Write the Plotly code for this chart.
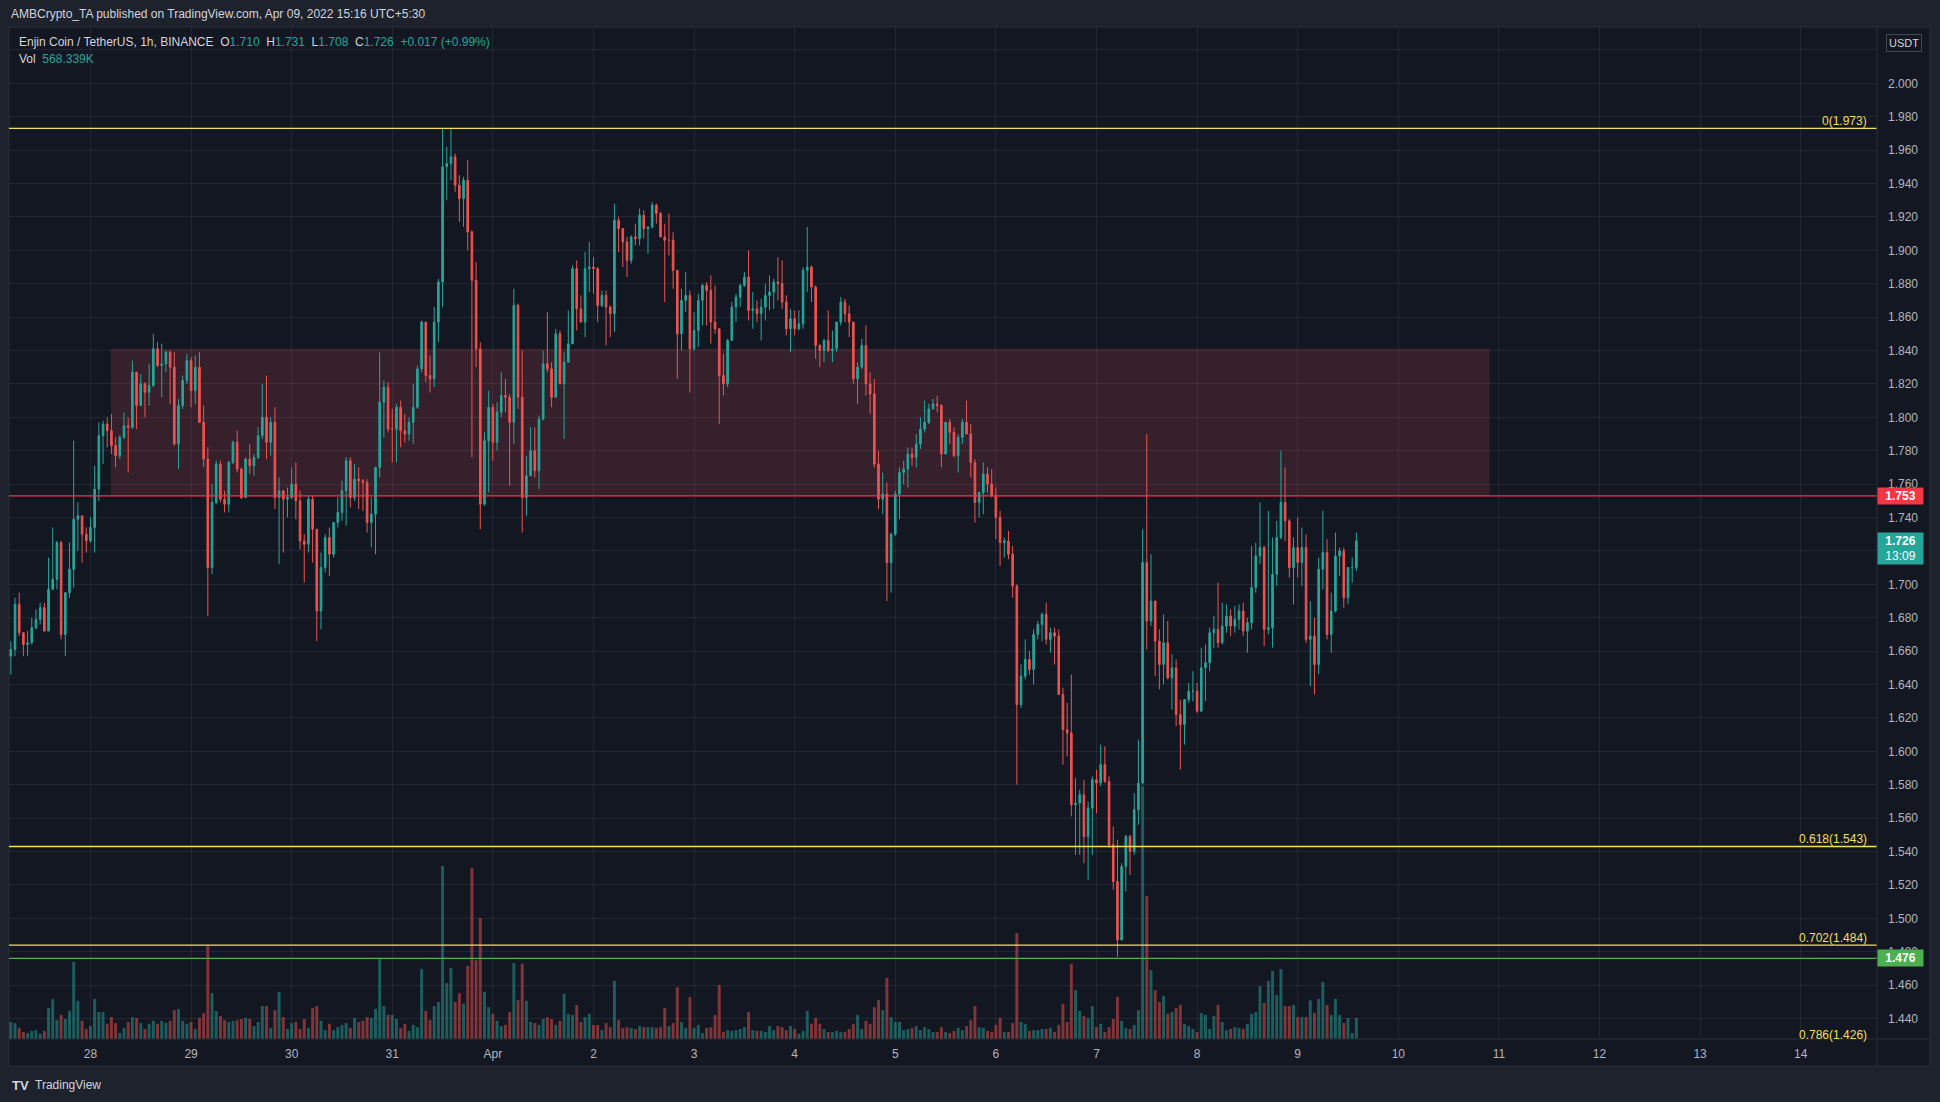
import plotly.graph_objects as go
import pandas as pd

# ---------------- data (ENJ/USDT, 1h, BINANCE) ----------------
first_candle = "2022-03-27 05:00"
first_open = 1.657

closes = [
    1.661, 1.688, 1.671, 1.664, 1.665, 1.674, 1.679, 1.686, 1.672, 1.697, 1.703, 1.725, 1.670, 1.695, 1.709, 1.739, 1.741, 1.730, 1.726,
    1.734, 1.757, 1.789, 1.796, 1.792, 1.783, 1.777, 1.788, 1.795, 1.794, 1.827, 1.807, 1.820, 1.815, 1.819, 1.841, 1.831, 1.832, 1.839, 1.830, 1.784, 1.807, 1.822, 1.834,
    1.816, 1.830, 1.797, 1.775, 1.710, 1.749, 1.772, 1.751, 1.748, 1.773, 1.785, 1.769, 1.752, 1.775, 1.771, 1.776, 1.789, 1.800, 1.785, 1.797, 1.752, 1.756, 1.751, 1.752,
    1.760, 1.750, 1.726, 1.724, 1.751, 1.733, 1.684, 1.710, 1.728, 1.718, 1.737, 1.743, 1.756, 1.774, 1.752, 1.763, 1.762, 1.761, 1.737, 1.742, 1.770, 1.809, 1.818, 1.793,
    1.793, 1.806, 1.792, 1.790, 1.797, 1.806, 1.829, 1.857, 1.825, 1.823, 1.857, 1.881, 1.950, 1.952, 1.956, 1.939, 1.931, 1.942, 1.911, 1.882, 1.841, 1.748, 1.786, 1.806,
    1.785, 1.803, 1.813, 1.812, 1.797, 1.867, 1.812, 1.752, 1.765, 1.780, 1.768, 1.799, 1.832, 1.829, 1.812, 1.850, 1.820, 1.833, 1.844, 1.889, 1.865, 1.857, 1.889, 1.890,
    1.889, 1.867, 1.873, 1.866, 1.862, 1.918, 1.913, 1.905, 1.894, 1.908, 1.907, 1.921, 1.913, 1.914, 1.927, 1.922, 1.908, 1.906, 1.906, 1.888, 1.850, 1.870, 1.873, 1.841,
    1.852, 1.870, 1.879, 1.876, 1.857, 1.853, 1.825, 1.820, 1.846, 1.866, 1.872, 1.879, 1.884, 1.864, 1.865, 1.862, 1.866, 1.873, 1.875, 1.881, 1.880, 1.869, 1.853, 1.859,
    1.853, 1.856, 1.888, 1.890, 1.878, 1.843, 1.840, 1.846, 1.840, 1.841, 1.857, 1.869, 1.862, 1.857, 1.823, 1.830, 1.843, 1.820, 1.814, 1.772, 1.751, 1.754, 1.713, 1.730,
    1.754, 1.767, 1.769, 1.778, 1.776, 1.784, 1.793, 1.797, 1.805, 1.808, 1.807, 1.778, 1.797, 1.791, 1.777, 1.788, 1.797, 1.790, 1.773, 1.749, 1.755, 1.766, 1.760, 1.753,
    1.740, 1.725, 1.726, 1.718, 1.699, 1.628, 1.645, 1.655, 1.649, 1.670, 1.676, 1.682, 1.667, 1.671, 1.669, 1.634, 1.613, 1.611, 1.568, 1.569, 1.574, 1.549, 1.566, 1.583,
    1.581, 1.592, 1.582, 1.544, 1.522, 1.487, 1.531, 1.549, 1.540, 1.565, 1.581, 1.713, 1.678, 1.690, 1.666, 1.652, 1.665, 1.644, 1.650, 1.622, 1.616, 1.631, 1.636, 1.636,
    1.624, 1.650, 1.653, 1.671, 1.673, 1.665, 1.675, 1.681, 1.675, 1.679, 1.684, 1.672, 1.677, 1.698, 1.717, 1.722, 1.673, 1.674, 1.706, 1.728, 1.749, 1.738, 1.710, 1.722,
    1.713, 1.722, 1.667, 1.669, 1.652, 1.709, 1.719, 1.670, 1.684, 1.717, 1.720, 1.692, 1.710, 1.710, 1.726,
]

highs = [
    1.666, 1.692, 1.695, 1.671, 1.672, 1.680, 1.685, 1.689, 1.689, 1.716, 1.734, 1.726, 1.726, 1.695, 1.725, 1.786, 1.749, 1.741, 1.734,
    1.740, 1.771, 1.797, 1.798, 1.800, 1.802, 1.788, 1.789, 1.803, 1.800, 1.834, 1.827, 1.826, 1.821, 1.832, 1.850, 1.845, 1.844, 1.840, 1.840, 1.839, 1.811, 1.825, 1.838,
    1.836, 1.837, 1.839, 1.807, 1.782, 1.760, 1.774, 1.774, 1.756, 1.774, 1.786, 1.792, 1.770, 1.776, 1.784, 1.778, 1.794, 1.820, 1.825, 1.800, 1.806, 1.764, 1.756, 1.758,
    1.770, 1.773, 1.756, 1.730, 1.753, 1.753, 1.733, 1.719, 1.730, 1.734, 1.737, 1.752, 1.762, 1.776, 1.776, 1.772, 1.770, 1.763, 1.763, 1.752, 1.770, 1.839, 1.822, 1.821,
    1.805, 1.808, 1.810, 1.802, 1.800, 1.820, 1.831, 1.858, 1.857, 1.837, 1.866, 1.883, 1.973, 1.962, 1.973, 1.958, 1.945, 1.944, 1.954, 1.912, 1.893, 1.845, 1.791, 1.816,
    1.808, 1.809, 1.827, 1.823, 1.814, 1.877, 1.868, 1.840, 1.777, 1.794, 1.794, 1.801, 1.840, 1.863, 1.833, 1.853, 1.852, 1.839, 1.864, 1.891, 1.894, 1.873, 1.899, 1.905,
    1.896, 1.890, 1.876, 1.876, 1.867, 1.928, 1.920, 1.913, 1.908, 1.909, 1.916, 1.925, 1.924, 1.914, 1.929, 1.928, 1.923, 1.916, 1.922, 1.911, 1.888, 1.877, 1.887, 1.876,
    1.863, 1.874, 1.880, 1.881, 1.885, 1.879, 1.853, 1.838, 1.847, 1.869, 1.874, 1.880, 1.887, 1.900, 1.875, 1.870, 1.871, 1.880, 1.885, 1.883, 1.896, 1.894, 1.873, 1.865,
    1.864, 1.864, 1.890, 1.914, 1.891, 1.879, 1.844, 1.847, 1.864, 1.852, 1.857, 1.872, 1.871, 1.867, 1.857, 1.833, 1.847, 1.855, 1.827, 1.823, 1.780, 1.767, 1.761, 1.731,
    1.756, 1.770, 1.774, 1.782, 1.782, 1.790, 1.800, 1.810, 1.808, 1.811, 1.813, 1.808, 1.797, 1.799, 1.794, 1.790, 1.799, 1.810, 1.796, 1.775, 1.755, 1.773, 1.770, 1.769,
    1.758, 1.744, 1.728, 1.732, 1.723, 1.700, 1.652, 1.667, 1.660, 1.673, 1.678, 1.683, 1.689, 1.674, 1.674, 1.673, 1.638, 1.629, 1.646, 1.584, 1.577, 1.583, 1.570, 1.585,
    1.589, 1.604, 1.603, 1.585, 1.555, 1.547, 1.533, 1.550, 1.550, 1.575, 1.607, 1.733, 1.790, 1.718, 1.690, 1.673, 1.682, 1.678, 1.658, 1.655, 1.631, 1.631, 1.641, 1.648,
    1.641, 1.662, 1.664, 1.674, 1.681, 1.701, 1.689, 1.688, 1.685, 1.687, 1.688, 1.689, 1.680, 1.723, 1.725, 1.749, 1.723, 1.744, 1.728, 1.738, 1.780, 1.770, 1.739, 1.728,
    1.740, 1.734, 1.730, 1.690, 1.680, 1.716, 1.744, 1.727, 1.695, 1.731, 1.722, 1.722, 1.710, 1.716, 1.731,
]

lows = [
    1.646, 1.657, 1.669, 1.657, 1.657, 1.664, 1.673, 1.676, 1.672, 1.672, 1.697, 1.697, 1.667, 1.657, 1.692, 1.698, 1.720, 1.713, 1.719,
    1.725, 1.719, 1.750, 1.772, 1.782, 1.778, 1.770, 1.775, 1.787, 1.767, 1.793, 1.793, 1.807, 1.800, 1.807, 1.818, 1.830, 1.812, 1.827, 1.808, 1.783, 1.769, 1.805, 1.820,
    1.806, 1.808, 1.797, 1.770, 1.681, 1.706, 1.748, 1.749, 1.743, 1.743, 1.772, 1.767, 1.751, 1.752, 1.766, 1.765, 1.775, 1.787, 1.775, 1.777, 1.745, 1.712, 1.719, 1.740,
    1.751, 1.739, 1.721, 1.701, 1.719, 1.713, 1.666, 1.673, 1.707, 1.705, 1.716, 1.734, 1.738, 1.735, 1.746, 1.750, 1.745, 1.744, 1.731, 1.722, 1.718, 1.764, 1.788, 1.791,
    1.773, 1.773, 1.782, 1.785, 1.786, 1.784, 1.805, 1.827, 1.821, 1.815, 1.818, 1.845, 1.866, 1.930, 1.942, 1.935, 1.917, 1.914, 1.900, 1.776, 1.830, 1.733, 1.747, 1.755,
    1.774, 1.780, 1.800, 1.803, 1.759, 1.784, 1.805, 1.731, 1.741, 1.765, 1.764, 1.757, 1.798, 1.827, 1.806, 1.813, 1.820, 1.787, 1.833, 1.844, 1.852, 1.857, 1.848, 1.875,
    1.874, 1.857, 1.866, 1.843, 1.848, 1.851, 1.899, 1.890, 1.884, 1.892, 1.903, 1.903, 1.907, 1.898, 1.913, 1.916, 1.908, 1.869, 1.897, 1.877, 1.823, 1.840, 1.863, 1.815,
    1.840, 1.842, 1.855, 1.855, 1.844, 1.850, 1.796, 1.813, 1.818, 1.846, 1.857, 1.866, 1.878, 1.858, 1.853, 1.857, 1.846, 1.858, 1.864, 1.865, 1.870, 1.865, 1.849, 1.839,
    1.849, 1.852, 1.853, 1.875, 1.869, 1.835, 1.830, 1.833, 1.839, 1.833, 1.839, 1.855, 1.857, 1.848, 1.820, 1.808, 1.829, 1.813, 1.802, 1.770, 1.745, 1.742, 1.690, 1.695,
    1.729, 1.739, 1.760, 1.758, 1.771, 1.770, 1.781, 1.791, 1.796, 1.805, 1.803, 1.770, 1.778, 1.784, 1.776, 1.767, 1.784, 1.790, 1.764, 1.737, 1.740, 1.742, 1.755, 1.752,
    1.727, 1.711, 1.716, 1.715, 1.692, 1.580, 1.626, 1.643, 1.646, 1.640, 1.667, 1.666, 1.664, 1.659, 1.652, 1.634, 1.592, 1.597, 1.561, 1.538, 1.538, 1.533, 1.523, 1.538,
    1.563, 1.579, 1.581, 1.542, 1.517, 1.477, 1.487, 1.516, 1.526, 1.538, 1.556, 1.580, 1.661, 1.675, 1.645, 1.637, 1.640, 1.643, 1.625, 1.615, 1.589, 1.604, 1.629, 1.630,
    1.623, 1.624, 1.630, 1.648, 1.662, 1.662, 1.664, 1.671, 1.669, 1.671, 1.673, 1.669, 1.659, 1.673, 1.695, 1.712, 1.663, 1.670, 1.662, 1.699, 1.727, 1.726, 1.704, 1.688,
    1.704, 1.699, 1.665, 1.639, 1.634, 1.646, 1.697, 1.667, 1.659, 1.683, 1.705, 1.686, 1.688, 1.701, 1.708,
]

volumes_k = [
    460, 430, 300, 190, 160, 220, 240, 140, 220, 840, 1080, 510, 650, 540, 760, 2080, 1030, 490, 270,
    350, 1080, 730, 730, 410, 590, 430, 160, 300, 460, 590, 570, 430, 270, 410, 490, 410, 490, 430, 490, 780, 810, 490, 410,
    460, 270, 570, 700, 2510, 1240, 760, 620, 510, 460, 490, 510, 540, 570, 540, 350, 460, 890, 890, 300, 780, 1270, 590, 270,
    430, 460, 270, 540, 300, 840, 890, 490, 240, 410, 240, 320, 380, 430, 300, 570, 460, 490, 590, 570, 810, 2190, 890, 650,
    650, 540, 300, 410, 220, 380, 320, 1890, 760, 510, 890, 1000, 4670, 1510, 1920, 1000, 1240, 950, 1970, 4620, 2130, 3270, 1270, 860,
    680, 490, 350, 380, 730, 2050, 1050, 2030, 1030, 460, 430, 380, 540, 590, 540, 380, 490, 1220, 680, 650, 920, 460, 590, 680,
    380, 380, 240, 430, 320, 1570, 510, 300, 320, 300, 270, 350, 320, 320, 320, 300, 320, 840, 350, 430, 1400, 460, 300, 1130,
    300, 380, 160, 300, 320, 650, 1460, 190, 240, 220, 240, 270, 320, 730, 240, 220, 220, 190, 350, 240, 350, 320, 240, 350,
    270, 140, 220, 760, 410, 570, 410, 270, 190, 190, 220, 190, 190, 270, 410, 650, 270, 490, 410, 860, 1050, 780, 1650, 590,
    460, 460, 240, 270, 300, 350, 240, 320, 270, 190, 190, 320, 190, 160, 220, 300, 240, 350, 510, 890, 320, 300, 220, 190,
    380, 570, 190, 190, 430, 2860, 460, 410, 220, 240, 240, 270, 270, 300, 190, 380, 950, 460, 2030, 1320, 760, 620, 570, 890,
    320, 410, 190, 320, 540, 1130, 490, 300, 270, 380, 780, 6830, 3860, 1860, 1320, 1000, 1160, 680, 730, 840, 920, 410, 350, 270,
    190, 700, 650, 270, 620, 920, 460, 240, 270, 320, 300, 270, 410, 680, 730, 1430, 970, 1570, 1840, 1190, 1890, 890, 890, 920,
    590, 590, 590, 1050, 700, 1080, 1540, 920, 650, 1080, 650, 430, 570, 160, 568.339,
]

day_ticks = pd.date_range("2022-03-28", "2022-04-14", freq="D")
day_labels = ["28", "29", "30", "31", "Apr", "2", "3", "4", "5", "6", "7", "8", "9",
              "10", "11", "12", "13", "14"]

price_ticks = [1.44, 1.46, 1.48, 1.50, 1.52, 1.54, 1.56, 1.58, 1.60, 1.62, 1.64, 1.66,
               1.68, 1.70, 1.72, 1.74, 1.76, 1.78, 1.80, 1.82, 1.84, 1.86, 1.88, 1.90,
               1.92, 1.94, 1.96, 1.98, 2.00, 2.02]
# tick labels hidden behind the USDT tag and the last-price tag
hidden_ticks = [2.02, 1.72]

fib_ratios = ["0", "0.618", "0.702", "0.786"]
fib_prices = [1.973, 1.543, 1.484, 1.426]

resistance = 1.753
support = 1.476
zone_top = 1.841
zone_start = "2022-03-28 04:54"
zone_end = "2022-04-10 21:48"

last_price = 1.726
countdown = "13:09"

title_text = "AMBCrypto_TA published on TradingView.com, Apr 09, 2022 15:16 UTC+5:30"
symbol_text = "Enjin Coin / TetherUS, 1h, BINANCE"
ohlc_labels = ["O", "H", "L", "C"]
ohlc_values = ["1.710", "1.731", "1.708", "1.726"]
change_text = "+0.017 (+0.99%)"
vol_text = "568.339K"

x_range = ["2022-03-27 04:34", "2022-04-14 18:12"]
y_range = [1.42773, 2.03371]
vol_range = [0, 27324]

# ---------------- derived ----------------
n = len(closes)
assert len(highs) == n and len(lows) == n and len(volumes_k) == n, (n, len(highs), len(lows), len(volumes_k))
times = pd.date_range(first_candle, periods=n, freq="h")
opens = [first_open] + closes[:-1]
highs = [max(h, o, c) for h, o, c in zip(highs, opens, closes)]
lows = [min(l, o, c) for l, o, c in zip(lows, opens, closes)]

UP = "#26a69a"
DOWN = "#ef5350"
vol_colors = ["rgba(38,166,154,0.5)" if c >= o else "rgba(239,83,80,0.5)"
              for o, c in zip(opens, closes)]

# pixel layout helpers
L, R, T, B = 9, 1877, 27, 1039
W, H = R - L, B - T


def px_x(px):
    return (px - L) / W


def px_y(py):
    return (B - py) / H


def price_frac(p):
    return (p - y_range[0]) / (y_range[1] - y_range[0])


FONT = "Liberation Sans, Arial, sans-serif"
TXT = "#d1d4dc"
AX = "#b2b5be"
YEL = "#f2df5c"

fig = go.Figure()

fig.add_trace(go.Bar(
    x=times, y=volumes_k, marker=dict(color=vol_colors, line=dict(width=0)),
    yaxis="y", hoverinfo="skip",
))

fig.add_trace(go.Candlestick(
    x=times, open=opens, high=highs, low=lows, close=closes, yaxis="y2",
    increasing=dict(line=dict(color=UP, width=1), fillcolor=UP),
    decreasing=dict(line=dict(color=DOWN, width=1), fillcolor=DOWN),
    whiskerwidth=0,
))

shapes = []
# chart panel background & border
shapes.append(dict(type="rect", xref="paper", yref="paper", x0=px_x(9), x1=px_x(1930),
                   y0=px_y(1066), y1=px_y(27), fillcolor="#131722",
                   line=dict(color="#2a2e39", width=1), layer="below"))
# resistance zone
shapes.append(dict(type="rect", xref="x", yref="y2", x0=zone_start, x1=zone_end,
                   y0=resistance, y1=zone_top, fillcolor="#35202b",
                   line=dict(width=0), layer="below"))
# fib lines
for p in fib_prices:
    if y_range[0] <= p <= y_range[1]:
        shapes.append(dict(type="line", xref="paper", yref="y2", x0=0, x1=1, y0=p, y1=p,
                           line=dict(color=YEL, width=1.3)))
shapes.append(dict(type="line", xref="paper", yref="y2", x0=0, x1=1, y0=resistance,
                   y1=resistance, line=dict(color="#f23645", width=1.3)))
shapes.append(dict(type="line", xref="paper", yref="y2", x0=0, x1=1, y0=support,
                   y1=support, line=dict(color="#4caf50", width=1.3)))
# axis separators
shapes.append(dict(type="line", xref="paper", yref="paper", x0=1, x1=1, y0=px_y(1066),
                   y1=px_y(27), line=dict(color="#2a2e39", width=1)))
shapes.append(dict(type="line", xref="paper", yref="paper", x0=0, x1=px_x(1930), y0=0,
                   y1=0, line=dict(color="#2a2e39", width=1)))

annotations = []
annotations.append(dict(xref="paper", yref="paper", x=px_x(9), y=px_y(14), xanchor="left",
                        yanchor="middle", text=title_text, showarrow=False,
                        font=dict(color=TXT, size=12, family=FONT)))
sp = "\u00a0"
parts = [symbol_text + sp * 2]
for lab, val in zip(ohlc_labels, ohlc_values):
    parts.append(f"{lab}<span style='color:{UP}'>{val}</span>{sp * 2}")
parts.append(f"<span style='color:{UP}'>{change_text}</span>")
annotations.append(dict(xref="paper", yref="paper", x=px_x(17), y=px_y(42), xanchor="left",
                        yanchor="middle", text="".join(parts), showarrow=False,
                        font=dict(color=TXT, size=12, family=FONT)))
annotations.append(dict(xref="paper", yref="paper", x=px_x(17), y=px_y(59), xanchor="left",
                        yanchor="middle",
                        text=f"Vol{sp * 2}<span style='color:{UP}'>{vol_text}</span>",
                        showarrow=False, font=dict(color=TXT, size=12, family=FONT)))
# fib labels
for r, p in zip(fib_ratios, fib_prices):
    annotations.append(dict(xref="paper", yref="paper", x=px_x(1869), y=price_frac(p),
                            xanchor="right", yanchor="bottom", text=f"{r}({p:.3f})",
                            showarrow=False, yshift=-2,
                            font=dict(color=YEL, size=12, family=FONT)))
# price badges
annotations.append(dict(xref="paper", yref="y2", x=1, y=resistance, xanchor="left",
                        yanchor="middle", text=f"<b>{resistance:.3f}</b>", showarrow=False,
                        bgcolor="#f23645", width=42, height=13, borderpad=1.5,
                        font=dict(color="#ffffff", size=12, family=FONT)))
annotations.append(dict(xref="paper", yref="y2", x=1, y=last_price, xanchor="left",
                        yanchor="top", yshift=9,
                        text=f"<b>{last_price:.3f}</b><br>{countdown}", showarrow=False,
                        bgcolor=UP, width=42, height=28, borderpad=1.5,
                        font=dict(color="#ffffff", size=12, family=FONT)))
annotations.append(dict(xref="paper", yref="y2", x=1, y=support, xanchor="left",
                        yanchor="middle", text=f"<b>{support:.3f}</b>", showarrow=False,
                        bgcolor="#4caf50", width=42, height=13, borderpad=1.5,
                        font=dict(color="#ffffff", size=12, family=FONT)))
annotations.append(dict(xref="paper", yref="paper", x=px_x(1904), y=px_y(43),
                        xanchor="center", yanchor="middle", text="USDT", showarrow=False,
                        bgcolor="#131722", bordercolor="#434651", borderwidth=1,
                        borderpad=2, font=dict(color=TXT, size=11, family=FONT)))
# TradingView footer
annotations.append(dict(xref="paper", yref="paper", x=px_x(10), y=px_y(1085),
                        xanchor="left", yanchor="middle",
                        text="<b>TV</b>", showarrow=False,
                        font=dict(color=TXT, size=13, family=FONT)))
annotations.append(dict(xref="paper", yref="paper", x=px_x(33), y=px_y(1085),
                        xanchor="left", yanchor="middle", text="TradingView",
                        showarrow=False, font=dict(color=TXT, size=12, family=FONT)))

GRID = "rgba(255,255,255,0.065)"
fig.update_layout(
    width=1940, height=1102,
    margin=dict(l=L, r=1940 - R, t=T, b=1102 - B, pad=0),
    paper_bgcolor="#1e222d", plot_bgcolor="#131722",
    showlegend=False, boxgap=0.45, bargap=0.3,
    font=dict(family=FONT, color=AX, size=12),
    xaxis=dict(type="date", range=x_range, tickvals=day_ticks, ticktext=day_labels,
               showgrid=True, gridcolor=GRID, gridwidth=1, zeroline=False,
               showline=False, ticks="", ticklabelstandoff=6,
               tickfont=dict(color=AX, size=12, family=FONT),
               rangeslider=dict(visible=False), fixedrange=True),
    yaxis=dict(range=vol_range, visible=False, showgrid=False, zeroline=False,
               fixedrange=True),
    yaxis2=dict(overlaying="y", side="right", range=y_range, tickvals=price_ticks,
                ticktext=[("" if any(abs(v - h) < 1e-9 for h in hidden_ticks) else f"{v:.3f}")
                          for v in price_ticks],
                showgrid=True, gridcolor=GRID, gridwidth=1, zeroline=False,
                showline=False, ticks="", ticklabelstandoff=10,
                tickfont=dict(color=AX, size=12, family=FONT), fixedrange=True),
    shapes=shapes, annotations=annotations,
)

fig.write_html("out.html")
